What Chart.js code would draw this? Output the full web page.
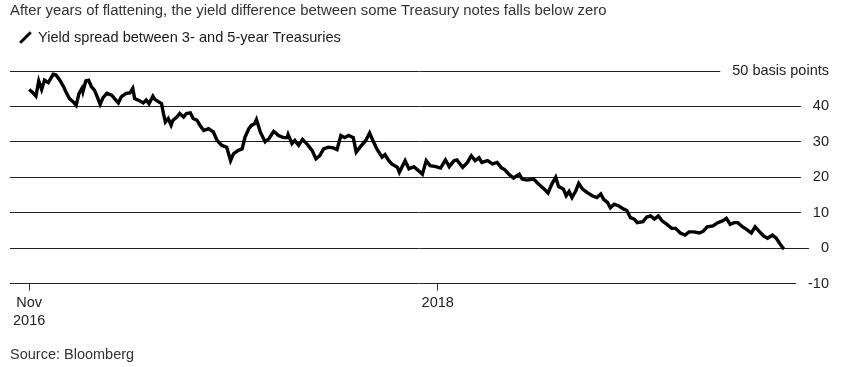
<!DOCTYPE html>
<html>
<head>
<meta charset="utf-8">
<script src="https://cdn.jsdelivr.net/npm/chart.js@4"></script>
<style>
  html, body { margin: 0; padding: 0; background: #fff; }
  body { width: 847px; height: 367px; position: relative; overflow: hidden;
         font-family: "Liberation Sans", Arial, sans-serif; }
  #wrap { position: absolute; left: 0; top: 0; width: 847px; height: 367px; }
  .txt { position: absolute; font-size: 14.5px; line-height: 16px; white-space: nowrap; }
  #title { left: 10px; top: 2px; color: #333; font-size: 14.9px; }
  #legend { left: 38px; top: 29px; color: #1a1a1a; font-size: 14.6px; }
  #swatch { position: absolute; left: 24px; top: 30px; width: 3px; height: 15px;
            background: #000; transform: rotate(45deg); }
  #source { left: 10px; top: 346px; color: #333; }
</style>
</head>
<body>
<div id="wrap"><canvas id="chart"></canvas></div>
<div id="title" class="txt">After years of flattening, the yield difference between some Treasury notes falls below zero</div>
<div id="swatch"></div>
<div id="legend" class="txt">Yield spread between 3- and 5-year Treasuries</div>
<div id="source" class="txt">Source: Bloomberg</div>
<script>
// --- Data (days since 1 Nov 2016, spread in basis points) ---
const days = [
  0, 3, 7, 10, 13, 16, 20, 25, 28, 32, 36, 39, 42, 46, 49, 52, 55, 56, 59, 62,
  65, 68, 71, 74, 77, 81, 86, 89, 93, 96, 101, 105, 108, 110, 115, 119, 122, 125, 129, 131,
  135, 138, 140, 142, 145, 148, 150, 154, 157, 161, 164, 168, 171, 175, 178, 182, 187, 192, 196, 201,
  206, 210, 213, 218, 222, 225, 229, 232, 235, 237, 241, 246, 250, 255, 260, 265, 269, 270, 274, 277,
  281, 285, 290, 295, 299, 303, 307, 312, 317, 321, 325, 329, 333, 338, 341, 345, 351, 355, 359, 363,
  368, 371, 375, 378, 384, 386, 392, 396, 401, 405, 410, 414, 418, 424, 429, 434, 438, 443, 446, 452,
  457, 461, 465, 469, 472, 478, 483, 488, 492, 496, 500, 505, 511, 514, 519, 526, 531, 537, 541, 545,
  549, 552, 557, 560, 563, 566, 570, 573, 577, 582, 587, 592, 596, 599, 603, 606, 610, 615, 620, 623,
  627, 631, 634, 640, 644, 648, 652, 656, 660, 665, 670, 674, 679, 684, 688, 693, 699, 703, 707, 713,
  718, 723, 727, 731, 735, 739, 744, 748, 753, 757, 761, 766, 770, 775, 779, 783, 787
];
const spread = [
  44.8, 44.1, 42.9, 47.2, 44.8, 47.4, 46.7, 49.1, 48.9, 47.4, 45.5, 43.7, 42.2, 41.3, 40.3, 43.7, 45.1, 44.1, 47.2, 47.4,
  45.5, 44.6, 42.7, 40.6, 42.5, 43.7, 43.2, 42.2, 41.0, 42.7, 43.7, 43.8, 45.1, 42.2, 41.6, 41.0, 41.8, 40.8, 42.9, 42.0,
  41.3, 40.8, 38.0, 35.6, 36.6, 34.7, 36.1, 37.0, 38.0, 37.0, 38.0, 38.2, 36.6, 36.1, 34.7, 33.2, 33.7, 32.8, 30.4, 29.0,
  28.5, 24.7, 26.6, 27.6, 28.0, 31.3, 33.7, 34.7, 35.1, 36.3, 32.8, 30.0, 30.9, 33.0, 31.8, 31.2, 31.2, 32.1, 29.5, 30.4,
  29.0, 30.7, 29.3, 27.6, 25.2, 26.1, 28.0, 28.5, 28.3, 27.8, 31.8, 31.2, 31.8, 31.2, 27.1, 28.5, 30.4, 32.5, 30.0, 27.8,
  25.7, 26.4, 24.7, 23.8, 22.8, 21.4, 24.7, 22.4, 23.0, 22.1, 20.9, 24.7, 23.3, 23.0, 22.6, 24.9, 23.0, 24.7, 24.9, 22.8,
  24.2, 26.1, 24.7, 25.5, 24.2, 24.7, 23.8, 24.2, 22.8, 22.1, 20.9, 19.8, 20.9, 19.5, 19.2, 19.5, 18.1, 16.7, 15.6, 18.1,
  20.0, 17.4, 16.7, 14.8, 16.0, 14.3, 16.2, 18.3, 16.7, 15.7, 14.8, 14.3, 15.3, 13.8, 12.9, 11.4, 12.4, 11.9, 11.0, 10.7,
  8.6, 8.2, 7.2, 7.5, 8.8, 9.1, 8.2, 9.1, 7.7, 6.7, 5.6, 5.6, 4.3, 3.7, 4.6, 4.6, 4.3, 4.8, 6.0, 6.3,
  7.2, 7.7, 8.4, 6.7, 7.2, 7.2, 6.0, 5.3, 4.3, 6.0, 4.8, 3.4, 2.8, 3.7, 2.8, 1.2, -0.3
];

// --- Axis ticks ---
const xTickDays = [0, 426];                 // 1 Nov 2016, 1 Jan 2018
const xTickLabels = [['Nov', '2016'], '2018'];
const yTicks = [-10, 0, 10, 20, 30, 40, 50];
const yUnit = 'basis points';

const FONT = { family: "'Liberation Sans', Arial, sans-serif", size: 14.5 };

const ctx = document.getElementById('chart').getContext('2d');
new Chart(ctx, {
  type: 'line',
  data: {
    datasets: [{
      data: days.map((d, i) => ({ x: d, y: spread[i] })),
      borderColor: '#000',
      borderWidth: 3.4,
      pointRadius: 0,
      tension: 0,
      borderJoinStyle: 'miter'
    }]
  },
  options: {
    responsive: true,
    maintainAspectRatio: false,
    animation: false,
    layout: { padding: { left: 10, right: 18, top: 71, bottom: 33 } },
    plugins: { legend: { display: false }, tooltip: { enabled: false } },
    scales: {
      x: {
        type: 'linear',
        min: -20,
        max: 834,
        afterBuildTicks: (axis) => { axis.ticks = xTickDays.map(v => ({ value: v })); },
        grid: { drawOnChartArea: false, drawTicks: true, tickLength: 7, color: '#333' },
        border: { display: false },
        ticks: {
          autoSkip: false,
          maxRotation: 0,
          padding: 4,
          color: '#222',
          font: { ...FONT, lineHeight: 1.22 },
          callback: (v) => {
            const i = xTickDays.indexOf(v);
            return i >= 0 ? xTickLabels[i] : '';
          }
        }
      },
      y: {
        position: 'right',
        min: -10,
        max: 50,
        afterBuildTicks: (axis) => { axis.ticks = yTicks.map(v => ({ value: v })); },
        grid: { color: '#222', lineWidth: 1, drawTicks: false },
        border: { display: false },
        ticks: {
          mirror: true,
          padding: 0,
          color: '#222',
          font: FONT,
          showLabelBackdrop: true,
          backdropColor: '#fff',
          backdropPadding: { left: 12, right: 20, top: 3, bottom: 3 },
          callback: (v) => v === 50 ? v + ' ' + yUnit : String(v)
        }
      }
    }
  }
});
</script>
</body>
</html>
